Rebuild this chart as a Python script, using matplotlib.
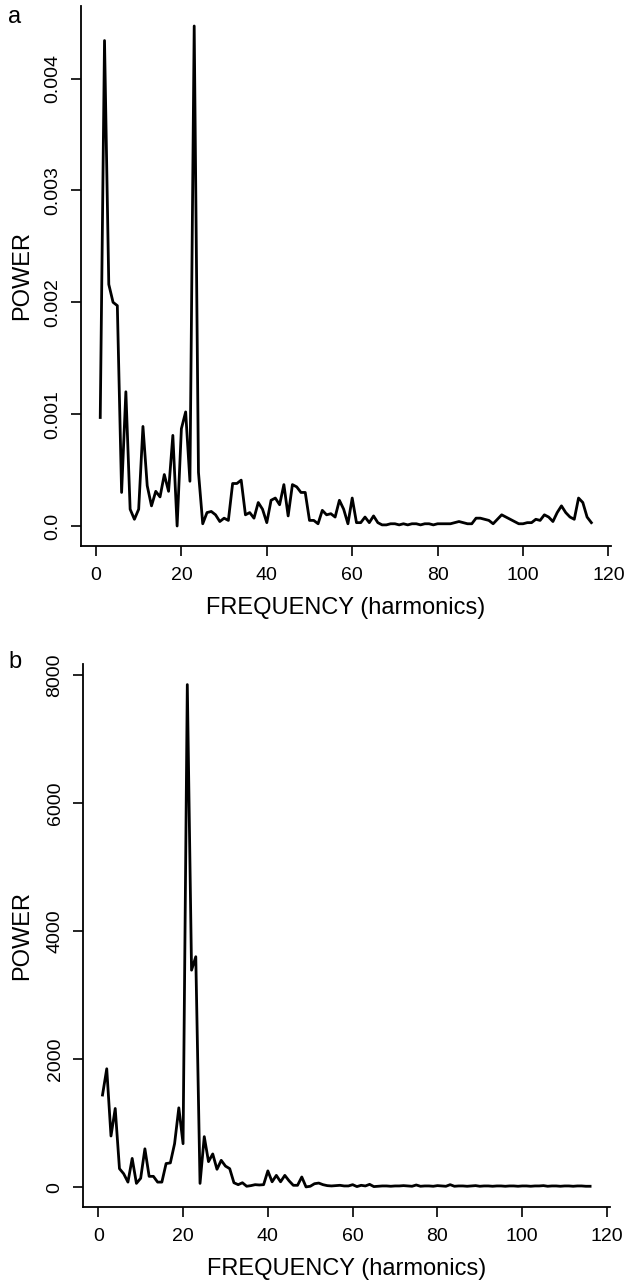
import matplotlib
matplotlib.use("Agg")
import matplotlib.pyplot as plt
import numpy as np

plt.rcParams['font.family'] = ['Liberation Sans', 'DejaVu Sans']

# Panel a: power spectrum (harmonics 1..116)
harm_a = list(range(1, 117))
power_a = [
    0.00097, 0.00434, 0.00216, 0.00200, 0.00197, 0.00030, 0.00120, 0.00015, 0.00006, 0.00015,
    0.00089, 0.00036, 0.00018, 0.00031, 0.00026, 0.00046, 0.00031, 0.00081, 0.00000, 0.00087,
    0.00102, 0.00040, 0.00447, 0.00048, 0.00002, 0.00012, 0.00013, 0.00010, 0.00004, 0.00007,
    0.00005, 0.00038, 0.00038, 0.00041, 0.00010, 0.00012, 0.00007, 0.00021, 0.00015, 0.00003,
    0.00023, 0.00025, 0.00019, 0.00037, 0.00009, 0.00037, 0.00035, 0.00030, 0.00030, 0.00005,
    0.00005, 0.00002, 0.00014, 0.00010, 0.00011, 0.00008, 0.00023, 0.00015, 0.00002, 0.00025,
    0.00003, 0.00003, 0.00008, 0.00003, 0.00009, 0.00003, 0.00001, 0.00001, 0.00002, 0.00002,
    0.00001, 0.00002, 0.00001, 0.00002, 0.00002, 0.00001, 0.00002, 0.00002, 0.00001, 0.00002,
    0.00002, 0.00002, 0.00002, 0.00003, 0.00004, 0.00003, 0.00002, 0.00002, 0.00007, 0.00007,
    0.00006, 0.00005, 0.00002, 0.00006, 0.00010, 0.00008, 0.00006, 0.00004, 0.00002, 0.00002,
    0.00003, 0.00003, 0.00006, 0.00005, 0.00010, 0.00008, 0.00004, 0.00012, 0.00018, 0.00012,
    0.00008, 0.00006, 0.00025, 0.00021, 0.00008, 0.00003,
]

# Panel b
harm_b = list(range(1, 117))
power_b = [
    1440, 1850, 800, 1230, 290, 210, 80, 450, 60, 140,
    600, 170, 170, 80, 80, 370, 380, 680, 1240, 680,
    7850, 3390, 3600, 60, 790, 400, 520, 280, 420, 330,
    290, 70, 40, 70, 15, 25, 40, 35, 40, 255,
    85, 185, 85, 185, 100, 30, 30, 160, 5, 15,
    55, 65, 40, 25, 20, 25, 30, 20, 20, 40,
    10, 30, 20, 45, 10, 15, 20, 20, 15, 20,
    20, 25, 20, 15, 35, 15, 20, 20, 15, 25,
    20, 15, 40, 15, 20, 20, 15, 20, 25, 15,
    20, 20, 15, 20, 20, 15, 20, 20, 15, 20,
    20, 15, 20, 20, 25, 15, 20, 20, 15, 20,
    20, 15, 20, 20, 15, 15,
]

xticks = [0, 20, 40, 60, 80, 100, 120]
yticks_a = [0.0, 0.001, 0.002, 0.003, 0.004]
yticklabels_a = ["0.0", "0.001", "0.002", "0.003", "0.004"]
yticks_b = [0, 2000, 4000, 6000, 8000]
yticklabels_b = ["0", "2000", "4000", "6000", "8000"]

W, H = 627, 1284
fig = plt.figure(figsize=(W / 100, H / 100), dpi=100)


def px_axes(l, t, r, b):
    return fig.add_axes([l / W, 1 - b / H, (r - l) / W, (b - t) / H])


def style(ax, yt, ytl):
    ax.margins(x=0.04, y=0.04)
    for s in ("top", "right"):
        ax.spines[s].set_visible(False)
    for s in ("left", "bottom"):
        ax.spines[s].set_linewidth(1.3)
    ax.set_xticks(xticks)
    ax.set_yticks(yt)
    ax.set_yticklabels(ytl)
    ax.tick_params(direction="out", length=7, width=1.2, labelsize=14, colors="black")
    ax.tick_params(axis="x", pad=8)
    ax.tick_params(axis="y", pad=7)
    for lab in ax.get_yticklabels():
        lab.set_rotation(90)
        lab.set_va("center")
    ax.set_xlabel("FREQUENCY (harmonics)", fontsize=17)
    ax.set_ylabel("POWER", fontsize=17)


ax1 = px_axes(80.6, 6, 611, 546)
ax1.plot(harm_a, power_a, color="black", lw=2.0)
style(ax1, yticks_a, yticklabels_a)
ax1.xaxis.set_label_coords(0.5, -0.094)
ax1.yaxis.set_label_coords(-0.09, 0.5)
fig.text(15 / W, 1 - 17 / H, "a", fontsize=17, ha="center", va="center")

ax2 = px_axes(83, 664.5, 609.6, 1207)
ax2.plot(harm_b, power_b, color="black", lw=2.0)
style(ax2, yticks_b, yticklabels_b)
ax2.xaxis.set_label_coords(0.5, -0.094)
ax2.yaxis.set_label_coords(-0.095, 0.5)
fig.text(15 / W, 1 - 662 / H, "b", fontsize=17, ha="center", va="center")

fig.savefig("out.png", dpi=100)
